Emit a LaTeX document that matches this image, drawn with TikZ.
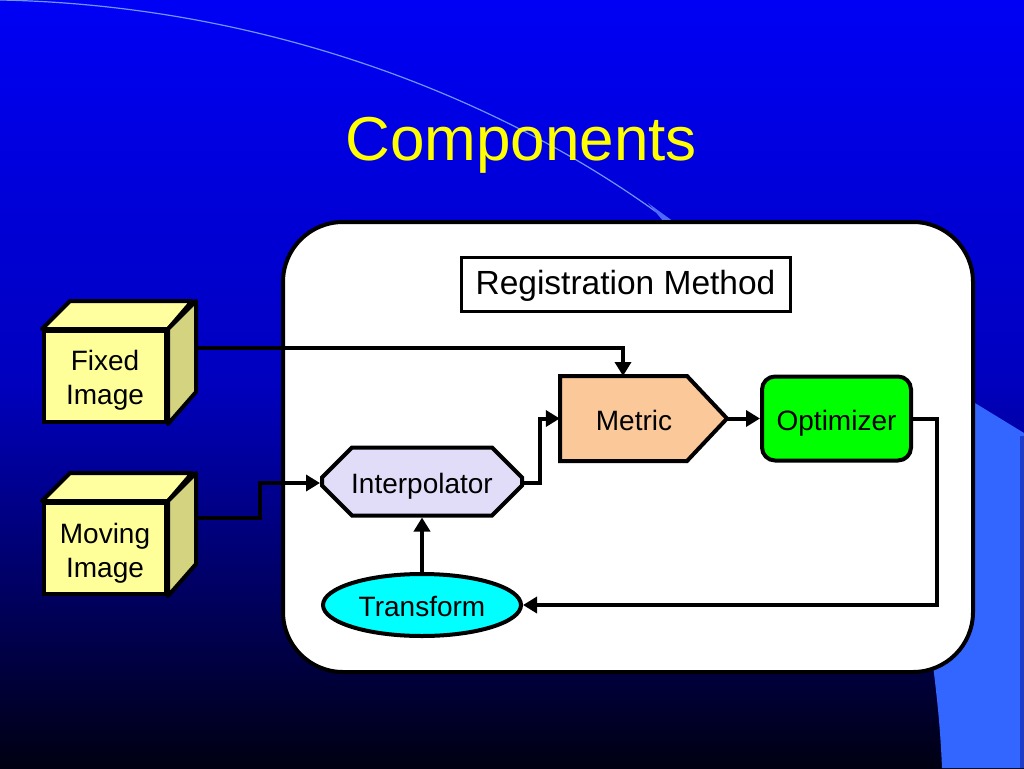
\documentclass[tikz,border=0pt]{standalone}
\usepackage{fontspec}
\setmainfont{Liberation Sans}
\usetikzlibrary{arrows.meta,shapes.geometric,shapes.misc,calc}
\definecolor{bgtop}{RGB}{0,0,245}
\definecolor{bgmid}{RGB}{0,0,190}
\definecolor{bgbot}{RGB}{0,0,18}
\definecolor{lightblue}{RGB}{51,102,255}
\definecolor{edgeblue}{RGB}{30,60,200}
\definecolor{arcblue}{RGB}{110,150,255}
\definecolor{cubefront}{RGB}{255,255,153}
\definecolor{cubetop}{RGB}{255,255,160}
\definecolor{cubeside}{RGB}{212,212,128}
\definecolor{peach}{RGB}{251,201,153}
\definecolor{lime}{RGB}{0,255,0}
\definecolor{lavender}{RGB}{225,221,249}
\definecolor{cyanfill}{RGB}{0,255,255}
\definecolor{titleyellow}{RGB}{255,255,0}
\tikzset{
  lbl/.style={font=\fontsize{28}{34}\selectfont, align=center},
  oneline/.style={lbl, text height=27pt, text depth=4pt},
  cubebox/.style={draw, line width=4pt, fill=cubefront, minimum width=122pt, minimum height=91pt, inner sep=0pt},
  conn/.style={line width=4pt, -{Triangle[length=14pt,width=16pt]}},
}
\begin{document}
\begin{tikzpicture}[x=1pt,y=-1pt]
\useasboundingbox (0,0) rectangle (1024,768);
% background
\shade[top color=bgtop, bottom color=bgbot, middle color=bgmid] (0,0) rectangle (1024,768);
% light blue decoration on the right
\fill[lightblue] (970,400) -- (1024,433) -- (1024,768) -- (942,768) .. controls (940,720) and (936,690) .. (930,640) -- (930,400) -- cycle;
\fill[edgeblue] (1020,436) rectangle (1024,768);
% thin arc
\draw[arcblue, line width=1.2pt] (0,0) .. controls (260,5) and (500,95) .. (670,222);
\fill[arcblue!70!bgtop] (648,203) -- (674,222) -- (664,222) -- cycle;
% title
\node[anchor=base, text=titleyellow, font=\fontsize{62}{70}\selectfont] (title) at (521,160) {Components};
% big rounded box
\draw[line width=4pt, fill=white, rounded corners=60pt] (283,222) rectangle (973,672);
% registration method label box
\node[draw, line width=3pt, fill=white, minimum width=329pt, minimum height=54pt, inner sep=0pt, text height=25pt, text depth=5pt, font=\fontsize{33.5}{40}\selectfont] (reg) at (625.5,284) {Registration Method};
% cubes
\node[cubebox] (fixed) at (105,376.5) {};
\node[cubebox] (moving) at (105,548.5) {};
\foreach \c in {fixed,moving}{
  \draw[line width=4pt, line join=round, fill=cubetop] (\c.north west) -- ++(28,-28) -- ++(122,0) -- (\c.north east) -- cycle;
  \draw[line width=4pt, line join=round, fill=cubeside] (\c.north east) -- ++(28,-28) -- ++(0,91) -- (\c.south east) -- cycle;
}
\node[lbl] (fixedtext) at (105,380) {Fixed\\Image};
\node[lbl] (movingtext) at (105,553) {Moving\\Image};
\coordinate (fixedport) at (195,348);
\coordinate (movingport) at (195,518);
% metric
\draw[line width=4pt, fill=peach, line join=miter] (560,376) -- (687,376) -- (727,418.5) -- (687,461) -- (560,461) -- cycle;
\node[inner sep=0pt, minimum width=148pt, minimum height=85pt, oneline] (metric) at (634,418.5) {Metric};
\coordinate (mtip) at (727,418.5);
% optimizer
\node[draw, line width=4pt, fill=lime, rounded corners=13pt, minimum width=149pt, minimum height=84pt, inner sep=0pt, oneline] (opt) at (836.5,418.5) {Optimizer};
% interpolator
\node[draw, line width=4pt, fill=lavender, chamfered rectangle, chamfered rectangle xsep=15pt, chamfered rectangle ysep=15pt, minimum width=200pt, minimum height=68pt, inner sep=0pt, oneline] (interp) at (422,481.5) {Interpolator};
% transform
\node[draw, line width=4pt, fill=cyanfill, ellipse, minimum width=198pt, minimum height=62pt, inner sep=0pt, oneline] (trans) at (422,605) {Transform};
% connectors
\draw[conn] (fixedport) -- (623,348) -- (623,376);
\draw[conn] (movingport) -- (260,518) -- (260,483) -- (interp.west |- 0,483);
\draw[conn] (interp.east |- 0,483) -- (540,483) -- (540,418.5) -- (metric.west);
\draw[conn] (mtip) -- (opt.west);
\draw[conn] (opt.east) -- (937,418.5) -- (937,605) -- (trans.east);
\draw[conn] (trans.north) -- (interp.south);
\end{tikzpicture}
\end{document}
